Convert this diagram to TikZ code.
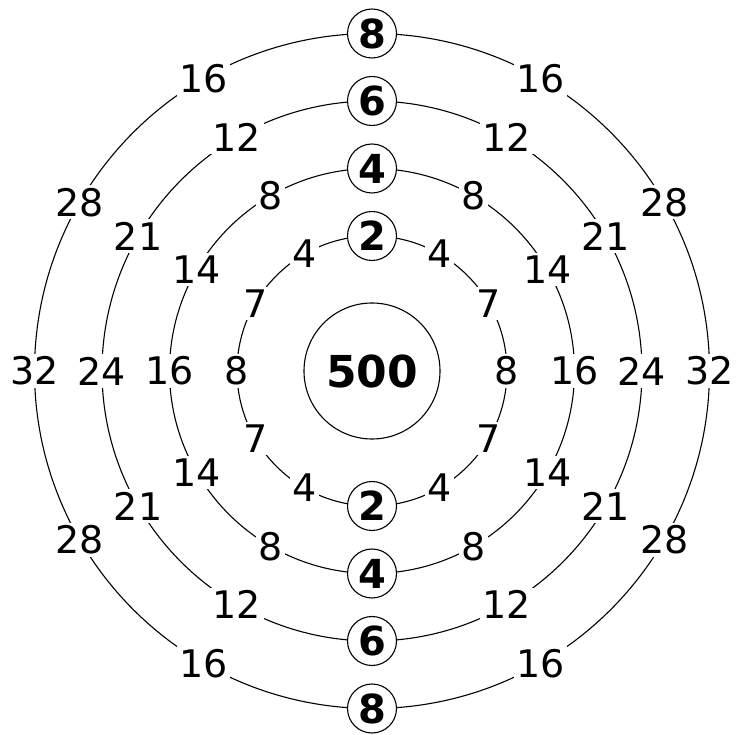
\documentclass[tikz,border=0pt]{standalone}
\usepackage{fontspec}
\setmainfont{DejaVu Sans}
\begin{document}
\begin{tikzpicture}[x=1pt,y=1pt,line width=1.1pt,
  lab/.style={fill=white, inner sep=2.5pt, font=\fontsize{38}{40}\selectfont},
  keynode/.style={circle, draw, fill=white, minimum size=49pt, inner sep=0pt, font=\bfseries\fontsize{40}{42}\selectfont},
  corenode/.style={circle, draw, minimum size=136pt, inner sep=0pt, font=\bfseries\fontsize{44}{46}\selectfont}]
\useasboundingbox (0,0) rectangle (742,734);
\coordinate (O) at (372,363);
\node[corenode] (core) at (O) {500};
% rings
\foreach \r in {135,202.5,270,337.5}
  \draw (O) circle[radius=\r pt];
% ring 1
\foreach \a/\t in {0/8,30/7,60/4,120/4,150/7,180/8,210/7,240/4,300/4,330/7}
  \node[lab] (a-\a) at ([shift={(\a:135pt)}]O) {\t};
\node[keynode] (a-90) at ([shift={(90:135pt)}]O) {2};
\node[keynode] (a-270) at ([shift={(270:135pt)}]O) {2};
% ring 2
\foreach \a/\t in {0/16,30/14,60/8,120/8,150/14,180/16,210/14,240/8,300/8,330/14}
  \node[lab] (b-\a) at ([shift={(\a:202.5pt)}]O) {\t};
\node[keynode] (b-90) at ([shift={(90:202.5pt)}]O) {4};
\node[keynode] (b-270) at ([shift={(270:202.5pt)}]O) {4};
% ring 3
\foreach \a/\t in {0/24,30/21,60/12,120/12,150/21,180/24,210/21,240/12,300/12,330/21}
  \node[lab] (c-\a) at ([shift={(\a:270pt)}]O) {\t};
\node[keynode] (c-90) at ([shift={(90:270pt)}]O) {6};
\node[keynode] (c-270) at ([shift={(270:270pt)}]O) {6};
% ring 4
\foreach \a/\t in {0/32,30/28,60/16,120/16,150/28,180/32,210/28,240/16,300/16,330/28}
  \node[lab] (d-\a) at ([shift={(\a:337.5pt)}]O) {\t};
\node[keynode] (d-90) at ([shift={(90:337.5pt)}]O) {8};
\node[keynode] (d-270) at ([shift={(270:337.5pt)}]O) {8};
\end{tikzpicture}
\end{document}
